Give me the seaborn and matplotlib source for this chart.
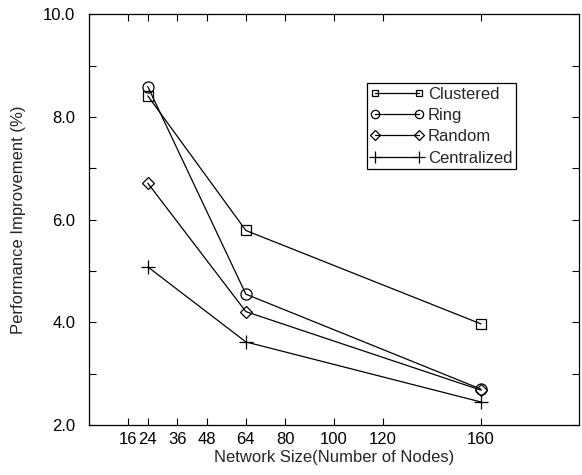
import numpy as np
import pandas as pd
import matplotlib
matplotlib.use('Agg')
import matplotlib.pyplot as plt
import matplotlib.ticker as mtick
from matplotlib.lines import Line2D
import seaborn as sns

nodes = [24, 64, 160]
clustered = [8.41, 5.79, 3.97]
ring = [8.59, 4.55, 2.70]
random_ = [6.71, 4.21, 2.68]
centralized = [5.08, 3.62, 2.45]
series_names = ['Clustered', 'Ring', 'Random', 'Centralized']
xticks = [16, 24, 36, 48, 64, 80, 100, 120, 160]
yticks = [2.0, 4.0, 6.0, 8.0, 10.0]

df = pd.DataFrame({
    'nodes': nodes * 4,
    'value': clustered + ring + random_ + centralized,
    'series': [s for s in series_names for _ in nodes],
})

sns.set_theme(style='ticks')
plt.rcParams['font.family'] = ['Liberation Sans', 'DejaVu Sans']
plt.rcParams['font.size'] = 12

fig = plt.figure(figsize=(5.82, 4.75), dpi=100)
ax = fig.add_axes([0.153, 0.105, 0.842, 0.865])

markers = {'Clustered': 's', 'Ring': 'o', 'Random': 'D', 'Centralized': '+'}
sizes = {'Clustered': 7, 'Ring': 8, 'Random': 6, 'Centralized': 10}
leg_sizes = {'Clustered': 5, 'Ring': 6, 'Random': 5, 'Centralized': 8}

handles = []
for name in series_names:
    sub = df[df['series'] == name]
    sns.lineplot(data=sub, x='nodes', y='value', marker=markers[name],
                 color='black', linewidth=0.9, markersize=sizes[name],
                 markerfacecolor='none', markeredgecolor='black', mew=0.9,
                 ax=ax, legend=False)
    line = ax.lines[-1]
    line.set_markerfacecolor('none')
    line.set_markeredgecolor('black')
    handles.append(Line2D([0], [0], color='black', linewidth=0.9,
                          marker=markers[name], markersize=leg_sizes[name],
                          markerfacecolor='none', markeredgecolor='black', mew=0.9))

ax.set_xlim(0, 200)
ax.set_ylim(2.0, 10.0)
ax.set_xticks(xticks)
ax.set_yticks(yticks)
ax.yaxis.set_major_formatter(mtick.FormatStrFormatter('%.1f'))
ax.yaxis.set_minor_locator(mtick.MultipleLocator(1.0))
ax.tick_params(which='both', direction='in', top=True, right=True,
               width=0.8, colors='black', labelsize=12, length=5)
ax.tick_params(axis='y', pad=10)
ax.tick_params(axis='x', pad=5)
for sp in ax.spines.values():
    sp.set_linewidth(0.9)
    sp.set_color('black')

ax.set_xlabel('Network Size(Number of Nodes)', fontsize=12, labelpad=2)
ax.set_ylabel('Performance Improvement (%)', fontsize=12, labelpad=12)

leg = ax.legend(handles=handles, labels=series_names, loc='upper left',
                bbox_to_anchor=(0.567, 0.832), numpoints=2,
                borderaxespad=0, handlelength=3.2, fancybox=False, framealpha=1,
                edgecolor='black', fontsize=12, borderpad=0.2, labelspacing=0.38,
                handletextpad=0.25)
leg.get_frame().set_linewidth(0.9)

fig.savefig('out.png', dpi=100)
